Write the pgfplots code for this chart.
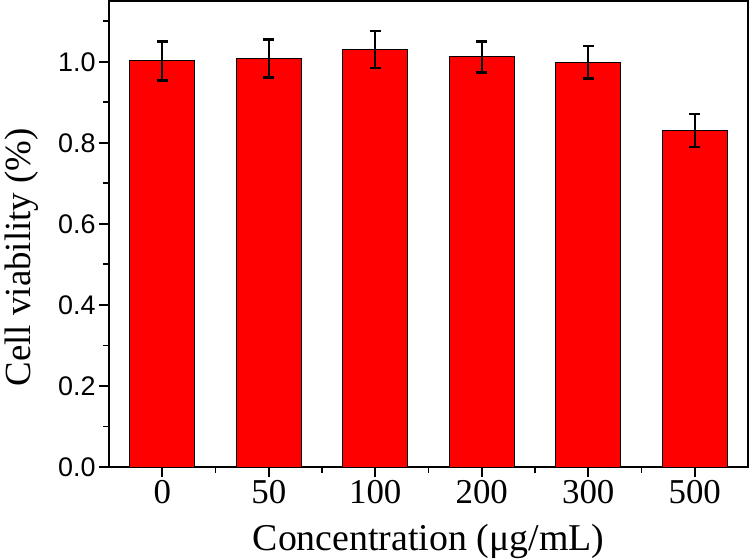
\documentclass[border=0pt]{standalone}
\usepackage{pgfplots}
\pgfplotsset{compat=1.18}
\usepackage{fontspec}
\setmainfont{Liberation Serif}
\newfontfamily\arial{Liberation Sans}
\begin{document}
\begin{tikzpicture}
\begin{axis}[
  scale only axis,
  width=639bp, height=466bp,
  xmin=-0.5, xmax=5.5,
  ymin=0, ymax=1.15,
  axis line style={line width=1.8bp},
  xtick={0,1,2,3,4,5},
  xticklabels={0,50,100,200,300,500},
  minor xtick={0.5,1.5,2.5,3.5,4.5},
  ytick={0,0.2,0.4,0.6,0.8,1.0},
  minor ytick={0.1,0.3,0.5,0.7,0.9,1.1},
  tick align=outside,
  xtick pos=bottom, ytick pos=left,
  major tick length=10bp, minor tick length=5.5bp,
  tick style={black, line width=1.8bp},
  /pgf/number format/assume math mode=true,
  yticklabel style={font=\arial\fontsize{27}{27}\selectfont,
    /pgf/number format/.cd, fixed, fixed zerofill, precision=1},
  xticklabel style={font=\fontsize{35}{35}\selectfont},
  xlabel={Concentration (μg/mL)},
  ylabel={Cell viability (\%)},
  xlabel style={font=\fontsize{38}{38}\selectfont, at={(axis description cs:0.5,-0.180)}, anchor=base},
  ylabel style={font=\fontsize{37}{37}\selectfont, at={(axis description cs:-0.137,0.45)}, anchor=center},
]
\addplot[ybar, bar width=65bp, fill={rgb,255:red,255;green,0;blue,0}, draw=black, line width=1bp,
  error bars/.cd, y dir=both, y explicit,
  error bar style={line width=2.4bp, black},
  error mark options={rotate=90, mark size=5.5bp, line width=2.4bp, black}]
  coordinates {
  (0,1.002) +- (0,0.048)
  (1,1.008) +- (0,0.047)
  (2,1.030) +- (0,0.046)
  (3,1.012) +- (0,0.038)
  (4,0.999) +- (0,0.040)
  (5,0.830) +- (0,0.041)
  };
\end{axis}
\pgfresetboundingbox
\path ([shift={(-109bp,-92bp)}]current axis.south west) rectangle ([shift={(2bp,1bp)}]current axis.north east);
\end{tikzpicture}
\end{document}
